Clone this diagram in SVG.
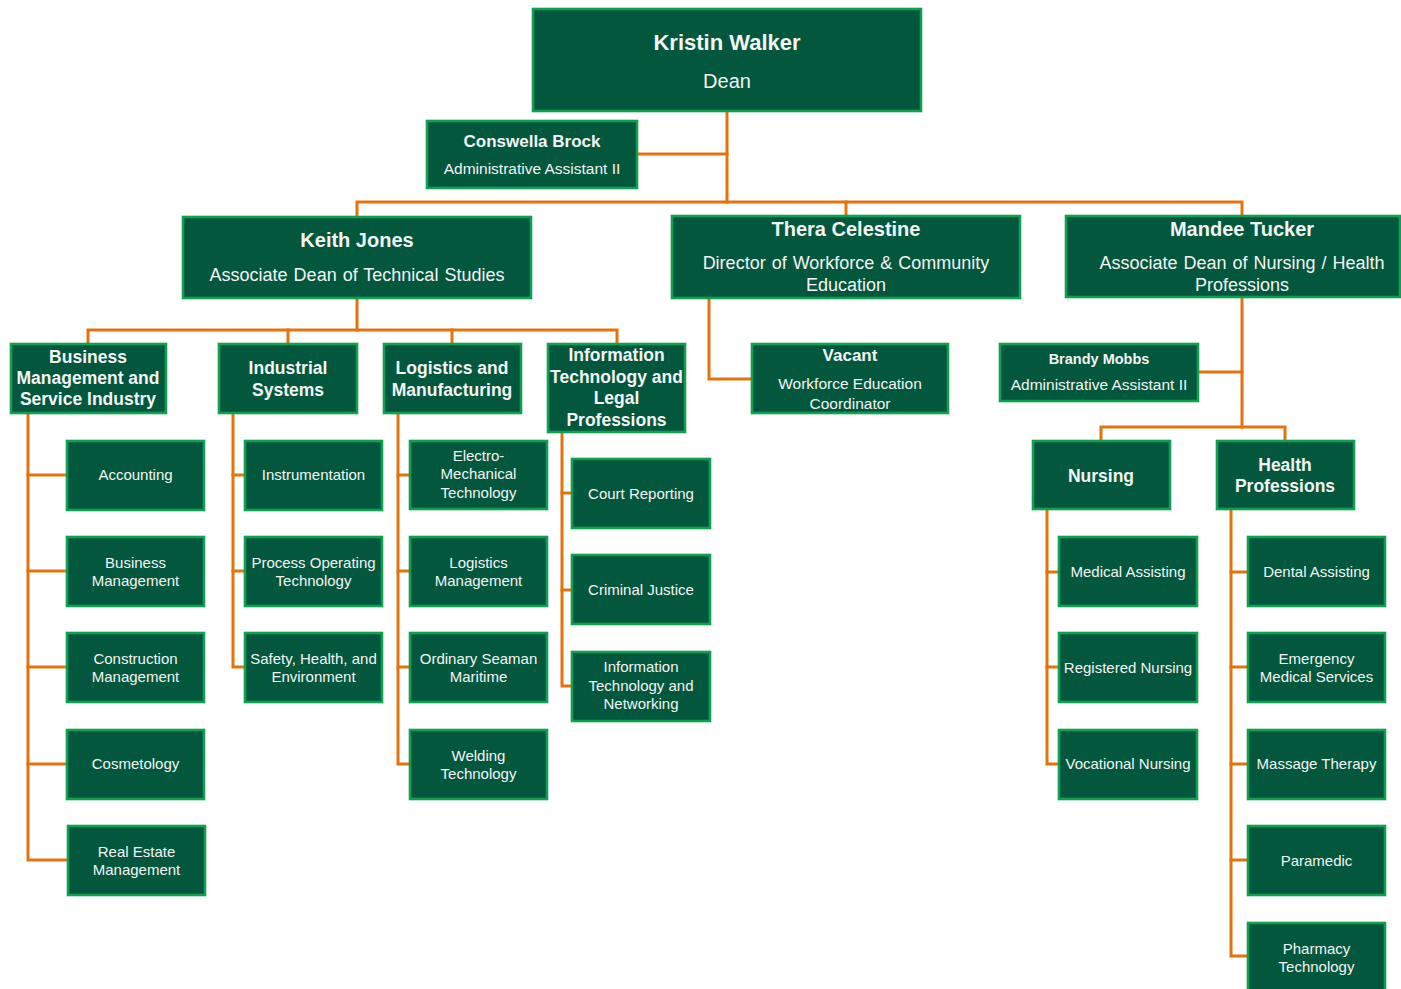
<svg xmlns="http://www.w3.org/2000/svg" width="1401" height="989" viewBox="0 0 1401 989">
<style>
.box{fill:#03573D;stroke:#0FA052;stroke-width:2.6}
.ln{fill:none;stroke:#E5720C;stroke-width:3;stroke-linejoin:miter;stroke-linecap:square}
text{font-family:"Liberation Sans",Arial,sans-serif;fill:#F4F4F4;text-anchor:middle}
.t1{font-size:22px;font-weight:bold}
.t2{font-size:20px;font-weight:bold}
.t3{font-size:17.5px;font-weight:bold}
.t4{font-size:17px;font-weight:bold}
.t5{font-size:14.5px;font-weight:bold}
.s1{font-size:20px}
.s2{font-size:18px;word-spacing:1px}
.s3{font-size:15.5px}
.c{font-size:15px}
</style>
<rect width="1401" height="989" fill="#FFFFFF"/>
<g id="connectors">
<path class="ln" d="M727,111 V202"/>
<path class="ln" d="M637,154 H727"/>
<path class="ln" d="M357,216 V202 H1242 V215"/>
<path class="ln" d="M846,202 V215"/>
<path class="ln" d="M357,298 V330"/>
<path class="ln" d="M88,343 V330 H617 V343"/>
<path class="ln" d="M288,330 V343"/>
<path class="ln" d="M452,330 V343"/>
<path class="ln" d="M28,413 V860 H67"/>
<path class="ln" d="M28,475 H66 M28,571 H66 M28,667 H66 M28,764 H66"/>
<path class="ln" d="M233,413 V667 H244"/>
<path class="ln" d="M233,475 H244 M233,571 H244"/>
<path class="ln" d="M398,413 V764 H409"/>
<path class="ln" d="M398,475 H409 M398,571 H409 M398,667 H409"/>
<path class="ln" d="M562,432 V686 H571"/>
<path class="ln" d="M562,493 H571 M562,590 H571"/>
<path class="ln" d="M709,298 V379 H751"/>
<path class="ln" d="M1242,297 V427"/>
<path class="ln" d="M1198,372 H1242"/>
<path class="ln" d="M1101,440 V427 H1285 V440"/>
<path class="ln" d="M1047,509 V764 H1058"/>
<path class="ln" d="M1047,572 H1058 M1047,667 H1058"/>
<path class="ln" d="M1231,509 V956 H1247"/>
<path class="ln" d="M1231,572 H1247 M1231,667 H1247 M1231,764 H1247 M1231,860 H1247"/>
</g>
<g id="kristin-walker"><rect class="box" x="533" y="9" width="388" height="102"/><text class="t1" x="727" y="50">Kristin Walker</text><text class="s1" x="727" y="88">Dean</text></g>
<g id="conswella-brock"><rect class="box" x="427" y="121" width="210" height="67"/><text class="t4" x="532" y="147">Conswella Brock</text><text class="s3" x="532" y="174">Administrative Assistant II</text></g>
<g id="keith-jones"><rect class="box" x="183" y="217" width="348" height="81"/><text class="t2" x="357" y="247">Keith Jones</text><text class="s2" x="357" y="281">Associate Dean of Technical Studies</text></g>
<g id="thera-celestine"><rect class="box" x="672" y="216" width="348" height="82"/><text class="t2" x="846" y="236">Thera Celestine</text><text class="s2" x="846" y="269">Director of Workforce &amp; Community</text><text class="s2" x="846" y="291">Education</text></g>
<g id="mandee-tucker"><rect class="box" x="1066" y="216" width="334" height="81"/><text class="t2" x="1242" y="236">Mandee Tucker</text><text class="s2" x="1242" y="269">Associate Dean of Nursing / Health</text><text class="s2" x="1242" y="291">Professions</text></g>
<g id="vacant"><rect class="box" x="752" y="344" width="196" height="69"/><text class="t4" x="850" y="361">Vacant</text><text class="s3" x="850" y="389">Workforce Education</text><text class="s3" x="850" y="409">Coordinator</text></g>
<g id="brandy-mobbs"><rect class="box" x="1000" y="344" width="198" height="57"/><text class="t5" x="1099" y="364">Brandy Mobbs</text><text class="s3" x="1099" y="390">Administrative Assistant II</text></g>
<g id="nursing"><rect class="box" x="1033" y="441" width="137" height="68"/><text class="t3" x="1101" y="482">Nursing</text></g>
<g id="health-professions"><rect class="box" x="1217" y="441" width="137" height="68"/><text class="t3" x="1285" y="471">Health</text><text class="t3" x="1285" y="492">Professions</text></g>
<g id="business-management-service"><rect class="box" x="11" y="344" width="155" height="69"/><text class="t3" x="88" y="363">Business</text><text class="t3" x="88" y="384">Management and</text><text class="t3" x="88" y="405">Service Industry</text></g>
<g id="industrial-systems"><rect class="box" x="219" y="344" width="138" height="69"/><text class="t3" x="288" y="374">Industrial</text><text class="t3" x="288" y="396">Systems</text></g>
<g id="logistics-manufacturing"><rect class="box" x="384" y="344" width="137" height="69"/><text class="t3" x="452" y="374">Logistics and</text><text class="t3" x="452" y="396">Manufacturing</text></g>
<g id="it-legal"><rect class="box" x="548" y="344" width="137" height="88"/><text class="t3" x="616.5" y="361">Information</text><text class="t3" x="616.5" y="383">Technology and</text><text class="t3" x="616.5" y="404">Legal</text><text class="t3" x="616.5" y="426">Professions</text></g>
<g id="accounting"><rect class="box" x="67" y="441" width="137" height="69"/><text class="c" x="135.5" y="480">Accounting</text></g>
<g id="business-management"><rect class="box" x="67" y="537" width="137" height="69"/><text class="c" x="135.5" y="567.5">Business</text><text class="c" x="135.5" y="586">Management</text></g>
<g id="construction-management"><rect class="box" x="67" y="633" width="137" height="69"/><text class="c" x="135.5" y="663.5">Construction</text><text class="c" x="135.5" y="682">Management</text></g>
<g id="cosmetology"><rect class="box" x="67" y="730" width="137" height="69"/><text class="c" x="135.5" y="769">Cosmetology</text></g>
<g id="real-estate"><rect class="box" x="68" y="826" width="137" height="69"/><text class="c" x="136.5" y="856.5">Real Estate</text><text class="c" x="136.5" y="875">Management</text></g>
<g id="instrumentation"><rect class="box" x="245" y="441" width="137" height="69"/><text class="c" x="313.5" y="480">Instrumentation</text></g>
<g id="process-operating"><rect class="box" x="245" y="537" width="137" height="69"/><text class="c" x="313.5" y="567.5">Process Operating</text><text class="c" x="313.5" y="586">Technology</text></g>
<g id="safety-health"><rect class="box" x="245" y="633" width="137" height="69"/><text class="c" x="313.5" y="663.5">Safety, Health, and</text><text class="c" x="313.5" y="682">Environment</text></g>
<g id="electro-mechanical"><rect class="box" x="410" y="441" width="137" height="68"/><text class="c" x="478.5" y="460.5">Electro-</text><text class="c" x="478.5" y="479">Mechanical</text><text class="c" x="478.5" y="497.5">Technology</text></g>
<g id="logistics-management"><rect class="box" x="410" y="537" width="137" height="69"/><text class="c" x="478.5" y="567.5">Logistics</text><text class="c" x="478.5" y="586">Management</text></g>
<g id="ordinary-seaman"><rect class="box" x="410" y="633" width="137" height="69"/><text class="c" x="478.5" y="663.5">Ordinary Seaman</text><text class="c" x="478.5" y="682">Maritime</text></g>
<g id="welding"><rect class="box" x="410" y="730" width="137" height="69"/><text class="c" x="478.5" y="760.5">Welding</text><text class="c" x="478.5" y="779">Technology</text></g>
<g id="court-reporting"><rect class="box" x="572" y="459" width="138" height="69"/><text class="c" x="641" y="498.5">Court Reporting</text></g>
<g id="criminal-justice"><rect class="box" x="572" y="555" width="138" height="69"/><text class="c" x="641" y="594.5">Criminal Justice</text></g>
<g id="it-networking"><rect class="box" x="572" y="652" width="138" height="69"/><text class="c" x="641" y="672">Information</text><text class="c" x="641" y="690.5">Technology and</text><text class="c" x="641" y="709">Networking</text></g>
<g id="medical-assisting"><rect class="box" x="1059" y="537" width="138" height="69"/><text class="c" x="1128" y="576.5">Medical Assisting</text></g>
<g id="registered-nursing"><rect class="box" x="1059" y="633" width="138" height="69"/><text class="c" x="1128" y="672.5">Registered Nursing</text></g>
<g id="vocational-nursing"><rect class="box" x="1059" y="730" width="138" height="69"/><text class="c" x="1128" y="769">Vocational Nursing</text></g>
<g id="dental-assisting"><rect class="box" x="1248" y="537" width="137" height="69"/><text class="c" x="1316.5" y="576.5">Dental Assisting</text></g>
<g id="ems"><rect class="box" x="1248" y="633" width="137" height="69"/><text class="c" x="1316.5" y="663.5">Emergency</text><text class="c" x="1316.5" y="682">Medical Services</text></g>
<g id="massage-therapy"><rect class="box" x="1248" y="730" width="137" height="69"/><text class="c" x="1316.5" y="769">Massage Therapy</text></g>
<g id="paramedic"><rect class="box" x="1248" y="826" width="137" height="69"/><text class="c" x="1316.5" y="865.5">Paramedic</text></g>
<g id="pharmacy-technology"><rect class="box" x="1248" y="923" width="137" height="69"/><text class="c" x="1316.5" y="953.5">Pharmacy</text><text class="c" x="1316.5" y="972">Technology</text></g>
</svg>
